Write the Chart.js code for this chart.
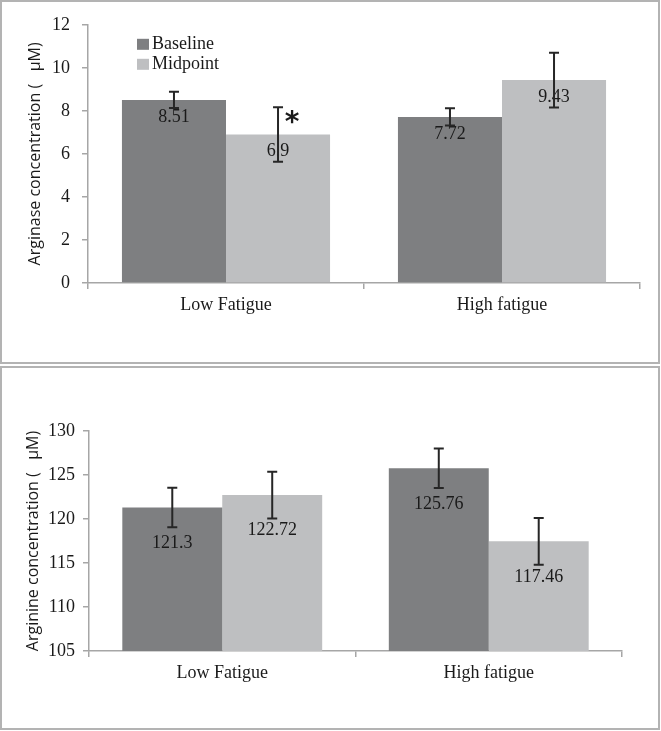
<!DOCTYPE html>
<html>
<head>
<meta charset="utf-8">
<script src="https://cdn.jsdelivr.net/npm/chart.js@4/dist/chart.umd.min.js"></script>
<style>
  body { margin: 0; background: #fff; }
  .box { position: absolute; left: 0; width: 656px; height: 360px; border: 2px solid #b3b3b3; }
  #topBox { top: 0; }
  #bottomBox { top: 366px; }
  canvas { display: block; }
</style>
</head>
<body>
<div class="box" id="topBox"><canvas id="arginaseChart" width="656" height="360"></canvas></div>
<div class="box" id="bottomBox"><canvas id="arginineChart" width="656" height="360"></canvas></div>
<script>
const categories = ['Low Fatigue', 'High fatigue'];
const seriesNames = ['Baseline', 'Midpoint'];
const seriesColors = ['#7e7f81', '#bebfc1'];

// arginase (uM), error = half of the whisker length
const arginaseBaseline = [8.51, 7.72];
const arginaseMidpoint = [6.9, 9.43];
const arginaseBaselineErr = [0.38, 0.4];
const arginaseMidpointErr = [1.27, 1.27];
const arginaseMidpointMarks = ['*', ''];
const arginaseTicks = [0, 12, 2]; // min, max, step

// arginine (uM)
const arginineBaseline = [121.3, 125.76];
const arginineMidpoint = [122.72, 117.46];
const arginineBaselineErr = [2.25, 2.25];
const arginineMidpointErr = [2.65, 2.65];
const arginineTicks = [105, 130, 5];

const serif = '"Liberation Serif", "Times New Roman", serif';
const sans = '"Open Sans", "Liberation Sans", sans-serif';
const ink = '#1a1a1a';
const axisGray = '#a6a6a6';

// value labels + error bars + significance marks
const errorBarPlugin = {
    id: 'errorBars',
    afterDatasetsDraw(chart, args, opts) {
        const ctx = chart.ctx;
        const yScale = chart.scales.y;
        chart.data.datasets.forEach((ds, i) => {
            const meta = chart.getDatasetMeta(i);
            meta.data.forEach((bar, j) => {
                const v = ds.data[j];
                ctx.save();
                ctx.fillStyle = ink;
                ctx.font = '18px ' + serif;
                ctx.textAlign = 'center';
                ctx.textBaseline = 'middle';
                ctx.fillText(String(v), bar.x, bar.y + opts.labelOffset);

                const top = yScale.getPixelForValue(v + ds.errors[j]);
                const bottom = yScale.getPixelForValue(v - ds.errors[j]);
                ctx.strokeStyle = '#262626';
                ctx.lineWidth = 2;
                ctx.beginPath();
                ctx.moveTo(bar.x, top);
                ctx.lineTo(bar.x, bottom);
                ctx.moveTo(bar.x - 5, top);
                ctx.lineTo(bar.x + 5, top);
                ctx.moveTo(bar.x - 5, bottom);
                ctx.lineTo(bar.x + 5, bottom);
                ctx.stroke();

                const mark = ds.marks ? ds.marks[j] : '';
                if (mark) {
                    ctx.font = 'bold 28px "DejaVu Sans", sans-serif';
                    ctx.textBaseline = 'alphabetic';
                    ctx.fillText(mark, bar.x + 14, top + 24);
                }
                ctx.restore();
            });
        });
    }
};

// legend sitting inside the plot, top left
const insideLegendPlugin = {
    id: 'insideLegend',
    afterDraw(chart, args, opts) {
        if (!opts.show) return;
        const { ctx, chartArea } = chart;
        chart.data.datasets.forEach((ds, i) => {
            const y = chartArea.top + 19 + i * 20;
            ctx.save();
            ctx.fillStyle = ds.backgroundColor;
            ctx.fillRect(chartArea.left + 49, y - 5, 12, 11);
            ctx.fillStyle = ink;
            ctx.font = '18px ' + serif;
            ctx.textBaseline = 'middle';
            ctx.fillText(ds.label, chartArea.left + 64, y);
            ctx.restore();
        });
    }
};

function buildChart(canvasId, values, errors, marks, ticks, title, L) {
    const datasets = values.map((data, i) => ({
        label: seriesNames[i],
        data: data,
        errors: errors[i],
        marks: marks[i],
        backgroundColor: seriesColors[i],
        borderWidth: 0,
        barPercentage: 1,
        categoryPercentage: L.catPct
    }));

    const ctx = document.getElementById(canvasId).getContext('2d');
    return new Chart(ctx, {
        type: 'bar',
        data: { labels: categories, datasets: datasets },
        options: {
            responsive: false,
            animation: false,
            layout: { padding: { top: L.top, right: L.right, bottom: 0, left: 0 } },
            scales: {
                x: {
                    grid: { drawOnChartArea: false, drawTicks: true, tickLength: 6, color: axisGray, lineWidth: 1.5 },
                    border: { color: axisGray, width: 1.5 },
                    ticks: { color: ink, font: { family: serif, size: 18 }, padding: 5 },
                    afterFit: s => { s.height = L.xHeight; }
                },
                y: {
                    min: ticks[0],
                    max: ticks[1],
                    ticks: { stepSize: ticks[2], color: ink, font: { family: serif, size: 18 }, padding: L.tickPad },
                    grid: { drawOnChartArea: false, drawTicks: true, tickLength: 6, color: axisGray, lineWidth: 1.5 },
                    border: { color: axisGray, width: 1.5 },
                    title: {
                        display: true,
                        text: title,
                        color: ink,
                        font: { family: sans, size: 16 },
                        padding: { top: L.titlePad, bottom: 0 }
                    },
                    afterFit: s => { s.width = L.yWidth; }
                }
            },
            plugins: {
                legend: { display: false },
                tooltip: { enabled: false },
                errorBars: { labelOffset: L.labelOffset },
                insideLegend: { show: L.legend }
            }
        },
        plugins: [errorBarPlugin, insideLegendPlugin]
    });
}

buildChart('arginaseChart',
    [arginaseBaseline, arginaseMidpoint],
    [arginaseBaselineErr, arginaseMidpointErr],
    [null, arginaseMidpointMarks],
    arginaseTicks,
    'Arginase concentration (   \u03bcM)',
    { top: 17, right: 18, xHeight: 79, yWidth: 86, tickPad: 12, titlePad: 24, catPct: 0.754, labelOffset: 17, legend: true });

buildChart('arginineChart',
    [arginineBaseline, arginineMidpoint],
    [arginineBaselineErr, arginineMidpointErr],
    [null, null],
    arginineTicks,
    'Arginine concentration (   \u03bcM)',
    { top: 63, right: 36, xHeight: 77, yWidth: 87, tickPad: 8, titlePad: 22, catPct: 0.75, labelOffset: 35.5, legend: false });
</script>
</body>
</html>
